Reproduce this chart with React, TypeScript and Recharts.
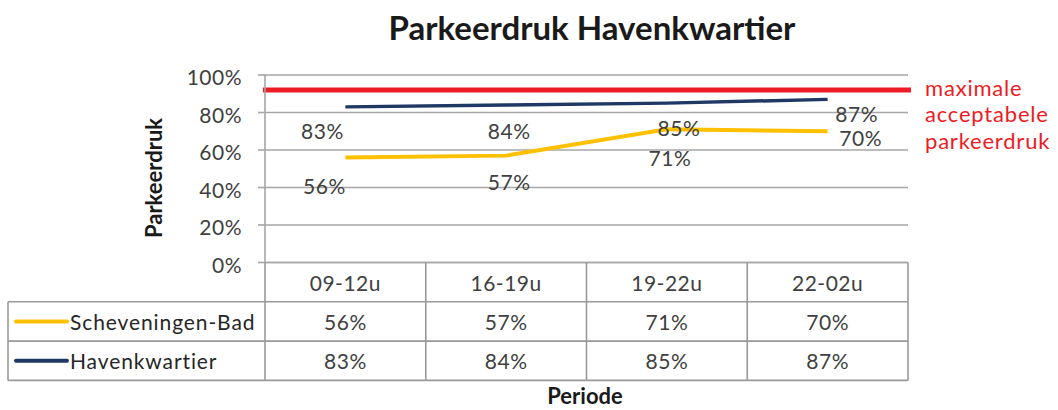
import React from 'react';
import { LineChart, Line, XAxis, YAxis, CartesianGrid, ReferenceLine, LabelList } from 'recharts';

const periods = ['09-12u', '16-19u', '19-22u', '22-02u'];
const badValues = [56, 57, 71, 70];
const havenValues = [83, 84, 85, 87];
const yTicks = [0, 20, 40, 60, 80, 100];
const maxAcceptable = 92;
const seriesNames = ['Scheveningen-Bad', 'Havenkwartier'];
const maxLabelLines = ['maximale', 'acceptabele', 'parkeerdruk'];

// label offsets (dx, dy) from each point, as placed in the original
const badLabelOffsets = [[-21, 28], [3, 26], [3, 28], [33, 6]];
const havenLabelOffsets = [[-23, 24], [3, 25], [12, 24], [29, 14]];

const YELLOW = '#FFC000';
const NAVY = '#1F3864';
const RED = '#ED1C24';
const GRID = '#A6A6A6';
const BORDER = '#999999';
const TEXT = '#404040';
const FONT = 'Lato, "Open Sans", sans-serif';
const ROW_H = 39.3;
const LEGEND_W = 257;
const FS = 21;
const LS = 0.5;
const PLOT_W = 643;
const BAND = PLOT_W / periods.length;

const data = periods.map((period, i) => ({ period, bad: badValues[i], haven: havenValues[i] }));

function TableTick(props: any) {
  const { x, y, payload, index } = props;
  const band = BAND;
  const cx = x;
  const left = cx - band / 2;
  const right = cx + band / 2;
  const row = data[index];
  const cells = [String(payload.value), row.bad + '%', row.haven + '%'];
  const sw = 1.6;
  return (
    <g>
      {index === 0 && (
        <g>
          <line x1={left} y1={y} x2={left} y2={y + 3 * ROW_H} stroke={BORDER} strokeWidth={sw} />
          <line x1={left - LEGEND_W} y1={y + ROW_H} x2={left - LEGEND_W} y2={y + 3 * ROW_H} stroke={BORDER} strokeWidth={sw} />
          {[1, 2, 3].map((k) => (
            <line key={k} x1={left - LEGEND_W} y1={y + k * ROW_H} x2={left} y2={y + k * ROW_H} stroke={BORDER} strokeWidth={sw} />
          ))}
          {seriesNames.map((name, k) => {
            const cy = y + (k + 1.5) * ROW_H;
            const col = k === 0 ? YELLOW : NAVY;
            return (
              <g key={name}>
                <line x1={left - LEGEND_W + 8} y1={cy} x2={left - LEGEND_W + 59} y2={cy} stroke={col} strokeWidth={4} strokeLinecap="round" />
                <text x={left - LEGEND_W + 62} y={cy} dominantBaseline="central" fontFamily={FONT} fontSize={FS} fill="#262626" letterSpacing={0.9}>{name}</text>
              </g>
            );
          })}
        </g>
      )}
      <line x1={right} y1={y} x2={right} y2={y + 3 * ROW_H} stroke={BORDER} strokeWidth={sw} />
      {[1, 2, 3].map((k) => (
        <line key={k} x1={left} y1={y + k * ROW_H} x2={right} y2={y + k * ROW_H} stroke={BORDER} strokeWidth={sw} />
      ))}
      {cells.map((c, k) => (
        <text key={k} x={cx} y={y + (k + 0.5) * ROW_H} textAnchor="middle" dominantBaseline="central" fontFamily={FONT} fontSize={FS} fill={TEXT} letterSpacing={LS}>{c}</text>
      ))}
    </g>
  );
}

const makeLabel = (offsets: number[][]) => (p: any) => {
  const { x, y, value, index } = p;
  const [dx, dy] = offsets[index] || [0, 0];
  return (
    <text x={x + dx} y={y + dy} textAnchor="middle" dominantBaseline="central" fontFamily={FONT} fontSize={FS} fill={TEXT} letterSpacing={LS}>
      {value}%
    </text>
  );
};

const RedShape = (p: any) => (
  <line x1={p.x1 - 2} y1={p.y1} x2={p.x2 + 3} y2={p.y2} stroke={RED} strokeWidth={5} />
);

const RedLabel = (p: any) => {
  const vb = p.viewBox || {};
  const x0 = vb.x + vb.width + 17;
  const y0 = vb.y;
  return (
    <g>
      {maxLabelLines.map((t, i) => (
        <text key={t} x={x0} y={y0 - 3 + i * 26.5} dominantBaseline="central" fontFamily={FONT} fontSize={22} fill={RED} letterSpacing={0.8}>{t}</text>
      ))}
    </g>
  );
};

export default function App() {
  return (
    <div style={{ position: 'absolute', left: 0, top: 0, width: 1058, height: 410, background: '#fff' }}>
      <LineChart
        width={1058}
        height={410}
        data={data}
        margin={{ top: 75, right: 150, bottom: 29.5, left: 205 }}
      >
        <CartesianGrid horizontal vertical={false} stroke={GRID} strokeWidth={1.6} />
        <XAxis
          dataKey="period"
          height={118}
          padding={{ left: BAND / 2, right: BAND / 2 }}
          axisLine={{ stroke: GRID, strokeWidth: 1.6 }}
          tickLine={false}
          tickSize={0}
          tickMargin={0}
          interval={0}
          tick={<TableTick />}
        />
        <YAxis
          width={60}
          domain={[0, 100]}
          ticks={yTicks}
          interval={0}
          tickFormatter={(v: number) => v + '%'}
          axisLine={{ stroke: GRID, strokeWidth: 1.6 }}
          tickLine={{ stroke: GRID, strokeWidth: 1.6 }}
          tickSize={7}
          tickMargin={16}
          tick={{ fontFamily: FONT, fontSize: FS, fill: TEXT, dy: 3, letterSpacing: LS }}
        />
        <ReferenceLine y={maxAcceptable} shape={<RedShape />} label={<RedLabel />} ifOverflow="visible" />
        <Line type="linear" dataKey="haven" stroke={NAVY} strokeWidth={3.5} dot={false} isAnimationActive={false}>
          <LabelList dataKey="haven" content={makeLabel(havenLabelOffsets)} />
        </Line>
        <Line type="linear" dataKey="bad" stroke={YELLOW} strokeWidth={4} dot={false} isAnimationActive={false}>
          <LabelList dataKey="bad" content={makeLabel(badLabelOffsets)} />
        </Line>
      </LineChart>
      <svg width={1058} height={410} style={{ position: 'absolute', left: 0, top: 0, pointerEvents: 'none' }}>
        <text x={592} y={40} textAnchor="middle" fontFamily={FONT} fontWeight="bold" fontSize={33} fill="#1a1a1a">Parkeerdruk Havenkwartier</text>
        <text transform="translate(153,178) rotate(-90)" textAnchor="middle" dominantBaseline="central" fontFamily={FONT} fontWeight="bold" fontSize={22} fill="#1a1a1a">Parkeerdruk</text>
        <text x={585} y={404} textAnchor="middle" fontFamily={FONT} fontWeight="bold" fontSize={22} fill="#1a1a1a">Periode</text>
      </svg>
    </div>
  );
}
